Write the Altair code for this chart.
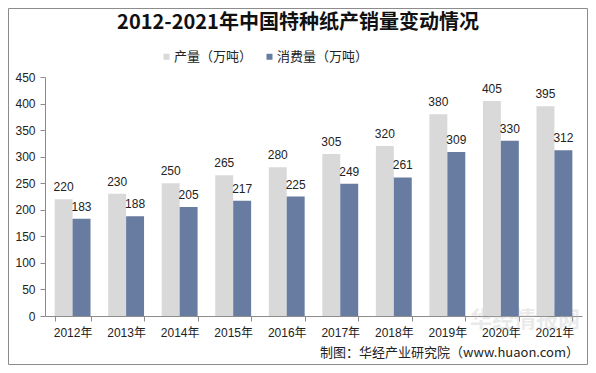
import altair as alt
import pandas as pd

years = ["2012年", "2013年", "2014年", "2015年", "2016年", "2017年", "2018年", "2019年", "2020年", "2021年"]
production = [220, 230, 250, 265, 280, 305, 320, 380, 405, 395]
consumption = [183, 188, 205, 217, 225, 249, 261, 309, 330, 312]
series = ["产量（万吨）", "消费量（万吨）"]
colors = ["#D9D9D9", "#687BA1"]
y_ticks = [0, 50, 100, 150, 200, 250, 300, 350, 400, 450]

title_text = "2012-2021年中国特种纸产销量变动情况"
source_text = "制图：华经产业研究院（www.huaon.com）"
watermark_text = "华经情报网"

rows = []
for i, yr in enumerate(years):
    rows.append({"year": yr, "series": series[0], "value": production[i]})
    rows.append({"year": yr, "series": series[1], "value": consumption[i]})
df = pd.DataFrame(rows)

W, H = 537, 239
num_font = "'Liberation Sans', Arial, 'Noto Sans CJK SC'"
cjk_font = "'Noto Sans CJK SC'"

x_enc = alt.X(
    "year:N", sort=years, title=None,
    scale=alt.Scale(paddingInner=0.33, paddingOuter=0.18),
    axis=alt.Axis(labelAngle=0, tickBand="extent", tickSize=5, labelPadding=6,
                  domainColor="#8C8C8C", tickColor="#8C8C8C",
                  labelFont=num_font, labelFontSize=12, labelColor="#222222"),
)
xoff = alt.XOffset("series:N", sort=series, scale=alt.Scale(paddingInner=0, paddingOuter=0))
y_enc = alt.Y(
    "value:Q", title=None,
    scale=alt.Scale(domain=[0, 450], nice=False),
    axis=alt.Axis(values=y_ticks, grid=False, tickSize=5, labelPadding=5,
                  labelOverlap=False, labelFlush=False,
                  domainColor="#8C8C8C", tickColor="#8C8C8C",
                  labelFont=num_font, labelFontSize=12, labelColor="#222222"),
)

base = alt.Chart(df)
bars = base.mark_bar().encode(
    x=x_enc, xOffset=xoff, y=y_enc,
    color=alt.Color("series:N", sort=series,
                    scale=alt.Scale(domain=series, range=colors),
                    legend=alt.Legend(title=None, orient="none", direction="horizontal",
                                      legendX=115, legendY=-27,
                                      symbolType="square", symbolSize=36,
                                      symbolStrokeWidth=0,
                                      labelFont=cjk_font, labelFontSize=13,
                                      labelColor="#222222", columnPadding=10,
                                      labelOffset=1)),
)
labels = base.mark_text(baseline="alphabetic", dy=-8, font=num_font, fontSize=12,
                        color="#222222").encode(
    x=x_enc, xOffset=xoff, y=y_enc, text="value:Q",
)

one = alt.Data(values=[{"a": 1}])
title = alt.Chart(one).mark_text(font=cjk_font, fontSize=20, fontWeight="bold",
                                 color="#111111", baseline="middle", align="center").encode(
    x=alt.value(253), y=alt.value(-54), text=alt.value(title_text))
source = alt.Chart(one).mark_text(font=cjk_font, fontSize=13, color="#222222",
                                  baseline="middle", align="right").encode(
    x=alt.value(534), y=alt.value(276), text=alt.value(source_text))
watermark = alt.Chart(one).mark_text(font=cjk_font, fontSize=22, fontWeight="bold",
                                     color="#BBBBBB", opacity=0.3, baseline="middle",
                                     align="center").encode(
    x=alt.value(480), y=alt.value(243), text=alt.value(watermark_text))
border = alt.Chart(one).mark_rect(fill=None, stroke="#8C8C8C", strokeWidth=1).encode(
    x=alt.value(-36.5), x2=alt.value(542.5), y=alt.value(-68.5), y2=alt.value(287.5))

chart = alt.layer(border, watermark, bars, labels, title, source).properties(
    width=W, height=H,
    autosize=alt.AutoSizeParams(type="none"),
    padding={"left": 37, "top": 69, "right": 6, "bottom": 49},
    background="white",
).configure_view(stroke=None)

chart.save("out.html", embed_options={"renderer": "svg", "actions": False})
